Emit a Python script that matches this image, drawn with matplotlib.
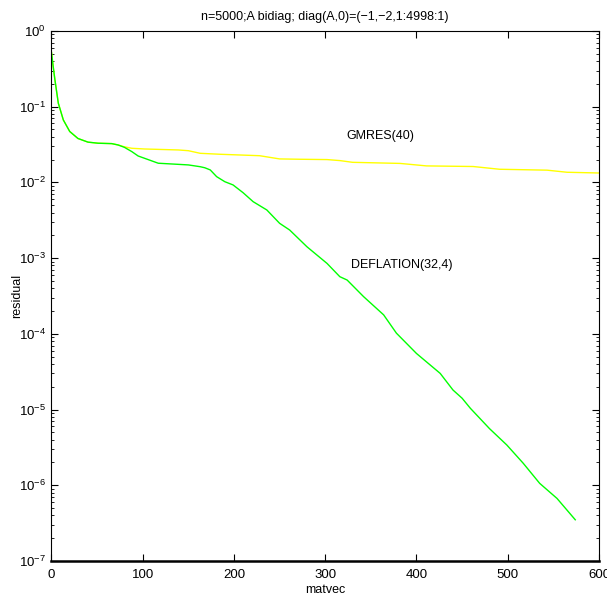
import matplotlib
matplotlib.use('Agg')
import matplotlib.pyplot as plt
from matplotlib.ticker import LogLocator, MultipleLocator, NullFormatter

# residual history
gmres_x = [0, 2, 3.8, 7.5, 13, 20, 29, 40, 51, 66, 73, 80, 88, 102, 139, 150, 163,
           185, 228, 250, 272, 302, 316, 330, 382, 411, 462, 491, 543, 565, 600]
gmres_y = [0.52, 0.33, 0.225, 0.111, 0.0667, 0.047, 0.038, 0.034, 0.0329, 0.0325,
           0.0312, 0.0295, 0.0282, 0.0276, 0.0268, 0.0262, 0.0242, 0.0235, 0.0225,
           0.0204, 0.0202, 0.0200, 0.0194, 0.0184, 0.0178, 0.0165, 0.0162, 0.0149,
           0.0145, 0.0136, 0.0133]

defl_x = [0, 2, 3.8, 7.5, 13, 20, 29, 40, 51, 66, 73, 80, 88, 95, 102, 117, 139, 150,
          163, 168, 174, 181, 190, 199, 210, 221, 236, 250, 261, 280, 302, 316, 324,
          342, 364, 378, 400, 426, 440, 450, 459, 480, 499, 517, 535, 554, 574]
defl_y = [0.52, 0.33, 0.225, 0.111, 0.0667, 0.047, 0.038, 0.034, 0.0329, 0.0325,
          0.0312, 0.029, 0.0255, 0.0223, 0.0208, 0.0179, 0.0173, 0.0170, 0.0161,
          0.0156, 0.0146, 0.0119, 0.0102, 0.00925, 0.0073, 0.00556, 0.00432, 0.00288,
          0.00235, 0.00141, 0.00085, 0.000568, 0.000513, 0.00031, 0.000178, 0.000102,
          5.5e-5, 3.0e-5, 1.81e-5, 1.41e-5, 1.04e-5, 5.6e-6, 3.4e-6, 1.95e-6, 1.06e-6,
          6.7e-7, 3.5e-7]

title = 'n=5000;A bidiag; diag(A,0)=(\u22121,\u22122,1:4998:1)'

plt.rcParams['font.family'] = ['Liberation Sans', 'DejaVu Sans']
plt.rcParams['mathtext.fontset'] = 'custom'
plt.rcParams['mathtext.rm'] = 'Liberation Sans'
plt.rcParams['mathtext.it'] = 'Liberation Sans'
plt.rcParams['mathtext.default'] = 'regular'

fig = plt.figure(figsize=(6.07, 6.03), dpi=100)
ax = fig.add_axes([0.0848, 0.0697, 0.902, 0.879])

ax.semilogy(gmres_x, gmres_y, color='#FFFF00', lw=1.0)
ax.semilogy(defl_x, defl_y, color='#00FF00', lw=1.0)

ax.set_xlim(0, 600)
ax.set_ylim(1e-7, 1)
ax.xaxis.set_major_locator(MultipleLocator(100))
ax.yaxis.set_major_locator(LogLocator(base=10, numticks=10))
ax.yaxis.set_minor_locator(LogLocator(base=10, subs=range(2, 10), numticks=20))
ax.yaxis.set_minor_formatter(NullFormatter())

ax.tick_params(which='both', direction='in', top=True, right=True, labelsize=9.5)
ax.tick_params(which='major', length=5, width=0.8)
ax.tick_params(which='minor', length=2.5, width=0.6)
ax.tick_params(axis='x', pad=6)
ax.tick_params(axis='y', pad=4)
for side in ['left', 'top', 'right']:
    ax.spines[side].set_linewidth(0.8)
ax.spines['bottom'].set_linewidth(1.8)

ax.text(323, 0.041, 'GMRES(40)', fontsize=9, va='center', ha='left')
ax.text(328, 0.0008, 'DEFLATION(32,4)', fontsize=9, va='center', ha='left')

ax.set_title(title, fontsize=9, pad=8)
ax.set_xlabel('matvec', fontsize=9, labelpad=2)
ax.set_ylabel('residual', fontsize=9, labelpad=-3)

fig.savefig('out.png', dpi=100)
